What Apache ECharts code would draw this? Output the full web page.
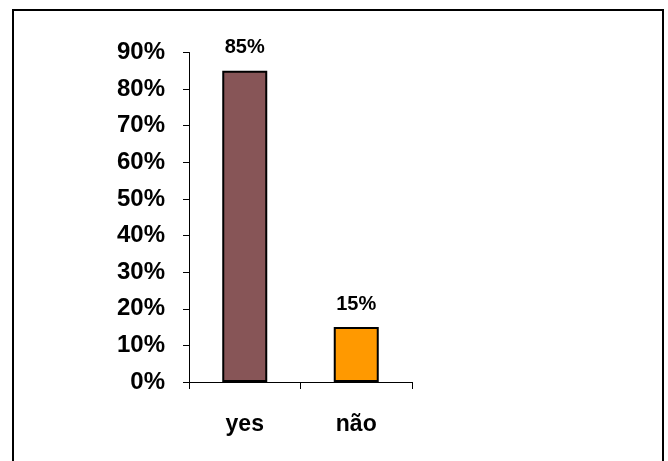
<!DOCTYPE html>
<html>
<head>
<meta charset="utf-8">
<script src="https://cdn.jsdelivr.net/npm/echarts@6/dist/echarts.min.js"></script>
<style>
  html, body { margin: 0; padding: 0; background: #fff; }
  #chart { width: 668px; height: 461px; }
</style>
</head>
<body>
<div id="chart"></div>
<script>
// Answers and their share of responses (percent)
const categories = ['yes', 'não'];
const shares = [85, 15];
const barColors = ['#875557', '#FF9900'];
const yTicks = { min: 0, max: 90, step: 10 };

const FONT = '"Liberation Sans", Arial, Helvetica, sans-serif';

const chart = echarts.init(document.getElementById('chart'), null, { renderer: 'canvas' });

chart.setOption({
  backgroundColor: '#ffffff',
  animation: false,
  graphic: [{
    type: 'rect',
    shape: { x: 13, y: 10, width: 650, height: 470 },
    style: { fill: 'none', stroke: '#000', lineWidth: 2 },
    silent: true
  }],
  grid: { left: 189, right: 256, top: 52.5, bottom: 79, containLabel: false },
  xAxis: {
    type: 'category',
    data: categories,
    boundaryGap: true,
    axisLine: { lineStyle: { color: '#000', width: 1 } },
    axisTick: { show: true, alignWithLabel: false, length: 7, lineStyle: { color: '#000' } },
    axisLabel: {
      margin: 31,
      color: '#000',
      fontFamily: FONT,
      fontWeight: 'bold',
      fontSize: 23
    }
  },
  yAxis: {
    type: 'value',
    min: yTicks.min,
    max: yTicks.max,
    interval: yTicks.step,
    splitLine: { show: false },
    axisLine: { show: true, lineStyle: { color: '#000', width: 1 } },
    axisTick: { show: true, length: 6, lineStyle: { color: '#000' } },
    axisLabel: {
      margin: 24,
      color: '#000',
      fontFamily: FONT,
      fontWeight: 'bold',
      fontSize: 24,
      formatter: v => v + '%'
    }
  },
  series: [{
    type: 'bar',
    barWidth: 45,
    data: shares.map((v, i) => ({
      value: v,
      itemStyle: { color: barColors[i], borderColor: '#000', borderWidth: 2 }
    })),
    label: {
      show: true,
      position: 'top',
      distance: 13,
      color: '#000',
      fontFamily: FONT,
      fontWeight: 'bold',
      fontSize: 20,
      formatter: p => p.value + '%'
    }
  }]
});
</script>
</body>
</html>
